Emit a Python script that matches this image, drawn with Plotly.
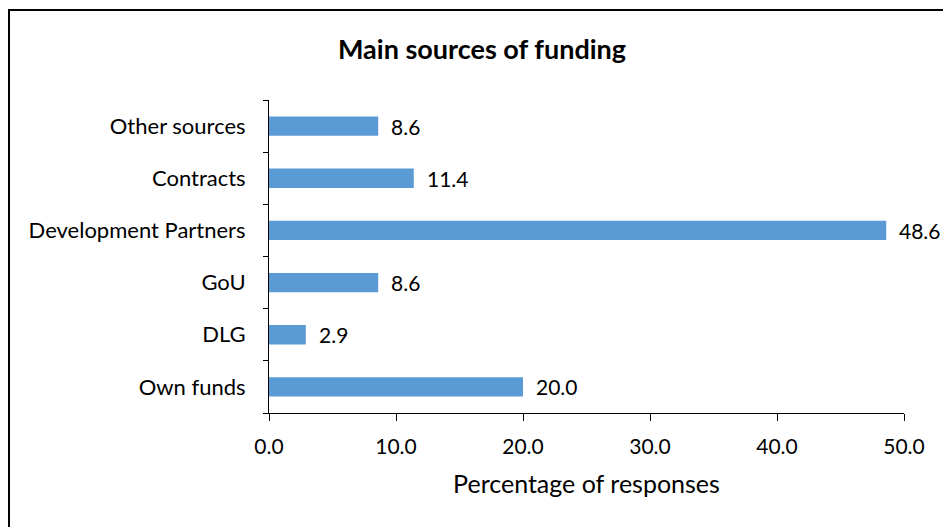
import plotly.graph_objects as go

categories = ["Own funds", "DLG", "GoU", "Development Partners", "Contracts", "Other sources"]
values = [20.0, 2.9, 8.6, 48.6, 11.4, 8.6]
x_ticks = [0, 10, 20, 30, 40, 50]
x_tick_labels = ["0.0", "10.0", "20.0", "30.0", "40.0", "50.0"]

FONT = "Lato"
BLUE = "#5B9BD5"

fig = go.Figure()
fig.add_trace(go.Bar(
    y=categories, x=values, orientation="h",
    marker=dict(color=BLUE, line=dict(width=0)),
    cliponaxis=False, hoverinfo="skip",
))

for c, v in zip(categories, values):
    fig.add_annotation(x=v, y=c, xref="x", yref="y", text=f"{v:.1f}",
                       showarrow=False, xanchor="left", xshift=11, yshift=0,
                       font=dict(family=FONT, size=21, color="#000000"))

L, R, T, B = 269, 904, 100, 413
W, H = 943, 527
pw, ph = R - L, B - T

fig.update_layout(
    width=W, height=H,
    margin=dict(l=L, r=W - R, t=T, b=H - B, autoexpand=False),
    paper_bgcolor="white", plot_bgcolor="white",
    bargap=0.63,
    showlegend=False,
    font=dict(family=FONT, color="#000000"),
    title=dict(text="<b>Main sources of funding</b>", x=(482) / W, xanchor="center",
               y=1 - 50 / H, yanchor="middle",
               font=dict(family=FONT, size=27, color="#000000")),
    xaxis=dict(range=[0, 50], tickvals=x_ticks, ticktext=x_tick_labels,
               showgrid=False, zeroline=False, showline=True, linecolor="#000000", linewidth=1,
               ticks="outside", ticklen=7, tickcolor="#000000", tickwidth=1,
               ticklabelstandoff=8,
               tickfont=dict(family=FONT, size=21, color="#000000"),
               title=dict(text="Percentage of responses", standoff=18,
                          font=dict(family=FONT, size=25, color="#000000")),
               fixedrange=True),
    yaxis=dict(range=[-0.5, 5.5], categoryorder="array", categoryarray=categories,
               showgrid=False, zeroline=False, showline=True, linecolor="#000000", linewidth=1,
               ticks="outside", ticklen=5, tickcolor="#000000", tickwidth=1,
               tickson="boundaries", ticklabelstandoff=18,
               tickfont=dict(family=FONT, size=22, color="#000000"),
               fixedrange=True),
)

# outer chart border (left and top visible; right/bottom outside the view)
fig.add_shape(type="rect", xref="paper", yref="paper",
              x0=(9 - L) / pw, x1=(W + 20 - L) / pw,
              y0=(B - (H + 20)) / ph, y1=(B - 10) / ph,
              line=dict(color="#000000", width=2), layer="below")

fig.write_html("out.html")
